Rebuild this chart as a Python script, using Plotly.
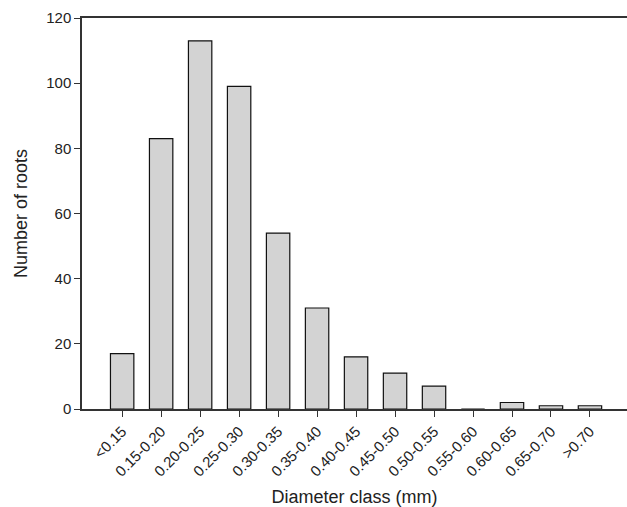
import plotly.graph_objects as go

categories = ["<0.15", "0.15-0.20", "0.20-0.25", "0.25-0.30", "0.30-0.35", "0.35-0.40",
              "0.40-0.45", "0.45-0.50", "0.50-0.55", "0.55-0.60", "0.60-0.65", "0.65-0.70", ">0.70"]
counts = [17, 83, 113, 99, 54, 31, 16, 11, 7, 0, 2, 1, 1]
y_ticks = [0, 20, 40, 60, 80, 100, 120]

fig = go.Figure(go.Bar(
    x=categories, y=counts, width=0.6,
    marker=dict(color="#d3d3d3", line=dict(color="#111111", width=1.2)),
))

font = "Liberation Sans, Arial, sans-serif"
fig.update_layout(
    width=627, height=507,
    margin=dict(l=82, r=0, t=18, b=98),
    plot_bgcolor="white", paper_bgcolor="white",
    font=dict(family=font, size=15, color="#222222"),
    showlegend=False,
    xaxis=dict(
        range=[-1.03, 12.95], showgrid=False, zeroline=False,
        showline=True, linecolor="#333333", linewidth=1.5, mirror=True,
        ticks="outside", ticklen=6, tickcolor="#333333", tickangle=-45,
        tickfont=dict(size=15),
        title=dict(text="Diameter class (mm)", font=dict(size=18), standoff=12),
    ),
    yaxis=dict(
        range=[0, 120], tickvals=y_ticks, showgrid=False, zeroline=False,
        showline=True, linecolor="#333333", linewidth=1.5,
        ticks="outside", ticklen=6, tickcolor="#333333",
        tickfont=dict(size=15),
        title=dict(text="Number of roots", font=dict(size=18), standoff=14),
    ),
)

fig.write_html("out.html")
